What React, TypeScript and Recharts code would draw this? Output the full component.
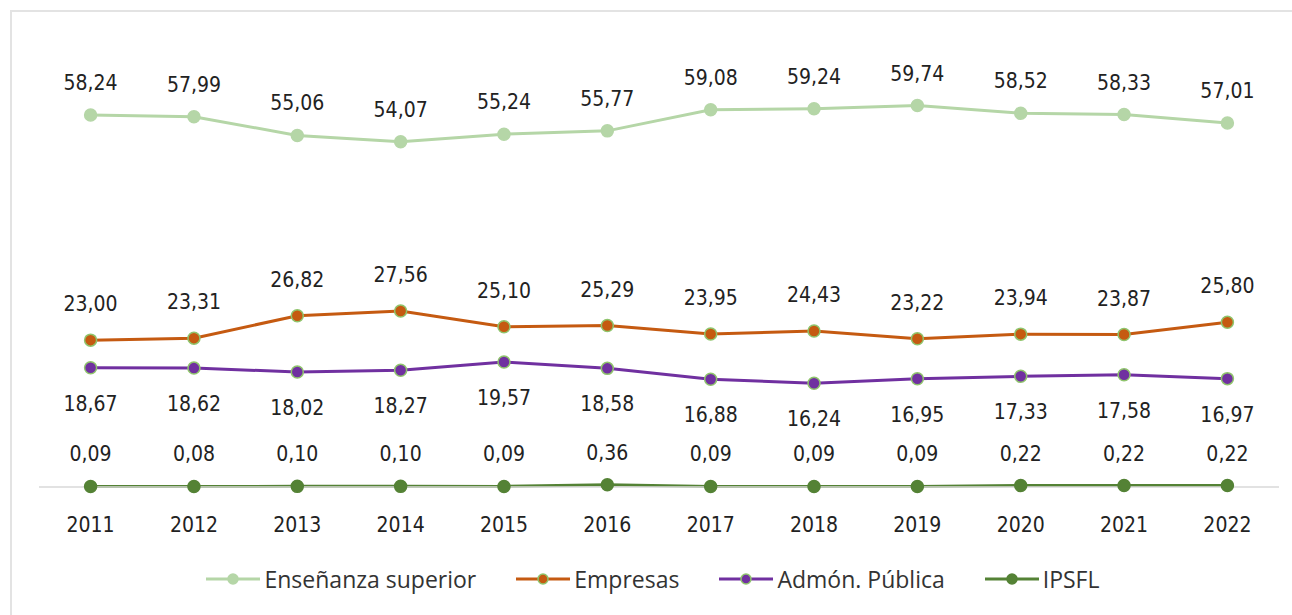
import { LineChart, Line, XAxis, YAxis, LabelList } from "recharts";

const years = ["2011", "2012", "2013", "2014", "2015", "2016", "2017", "2018", "2019", "2020", "2021", "2022"];
const ensenanza = [58.24, 57.99, 55.06, 54.07, 55.24, 55.77, 59.08, 59.24, 59.74, 58.52, 58.33, 57.01];
const empresas = [23.0, 23.31, 26.82, 27.56, 25.1, 25.29, 23.95, 24.43, 23.22, 23.94, 23.87, 25.8];
const admon = [18.67, 18.62, 18.02, 18.27, 19.57, 18.58, 16.88, 16.24, 16.95, 17.33, 17.58, 16.97];
const ipsfl = [0.09, 0.08, 0.1, 0.1, 0.09, 0.36, 0.09, 0.09, 0.09, 0.22, 0.22, 0.22];

const data = years.map((year, i) => ({
  year,
  ensenanza: ensenanza[i],
  empresas: empresas[i],
  admon: admon[i],
  ipsfl: ipsfl[i],
}));

const series = [
  { key: "ensenanza", name: "Enseñanza superior", color: "#b5d6a7", dotStroke: "#b5d6a7", pos: "top", offset: 25 },
  { key: "empresas", name: "Empresas", color: "#c55a11", dotStroke: "#8fc46c", pos: "top", offset: 29 },
  { key: "admon", name: "Admón. Pública", color: "#7030a0", dotStroke: "#8fc46c", pos: "bottom", offset: 28 },
  { key: "ipsfl", name: "IPSFL", color: "#548235", dotStroke: "#548235", pos: "top", offset: 25 },
] as const;

const fmt = (v: unknown) => Number(v).toFixed(2).replace(".", ",");
const FONT = "DejaVu Sans Condensed, DejaVu Sans, sans-serif";

function LegendRow() {
  return (
    <div
      style={{
        position: "absolute",
        top: 562,
        left: 0,
        width: 1292,
        display: "flex",
        justifyContent: "center",
        gap: 40,
        fontFamily: "Open Sans, sans-serif",
        fontSize: 23,
        lineHeight: "34px",
        color: "#333",
        paddingLeft: 14,
        boxSizing: "border-box",
      }}
    >
      {series.map((s) => (
        <div key={s.key} style={{ display: "flex", alignItems: "center" }}>
          <svg width={54} height={16} style={{ marginRight: 4 }}>
            <line x1={0} y1={8} x2={54} y2={8} stroke={s.color} strokeWidth={3} />
            <circle cx={27} cy={8} r={5} fill={s.color} stroke={s.dotStroke} strokeWidth={1.5} />
          </svg>
          <span>{s.name}</span>
        </div>
      ))}
    </div>
  );
}

export default function App() {
  return (
    <div
      style={{
        position: "absolute",
        left: 0,
        top: 0,
        width: 1292,
        height: 615,
        background: "#fff",
        overflow: "hidden",
        fontFamily: FONT,
      }}
    >
      <div
        style={{
          position: "absolute",
          left: 10,
          top: 10,
          width: 1300,
          height: 620,
          borderLeft: "2px solid #e3e3e3",
          borderTop: "2px solid #e3e3e3",
        }}
      />
      <div style={{ position: "absolute", left: 0, top: 0 }}>
        <LineChart width={1292} height={615} data={data} margin={{ top: 40, right: 13, left: 39, bottom: 78 }}>
          <XAxis
            dataKey="year"
            axisLine={{ stroke: "#d9d9d9", strokeWidth: 1.5 }}
            tickLine={false}
            tickMargin={24}
            padding={{ left: 51.6, right: 51.6 }}
            tick={{ fontSize: 21, fill: "#222", fontFamily: FONT }}
            height={50}
          />
          <YAxis hide domain={[0, 70]} width={0} />
          {series.map((s) => (
            <Line
              key={s.key}
              dataKey={s.key}
              name={s.name}
              stroke={s.color}
              strokeWidth={3}
              type="linear"
              dot={{ r: 6, fill: s.color, stroke: s.dotStroke, strokeWidth: 1.5 }}
              isAnimationActive={false}
            >
              <LabelList
                dataKey={s.key}
                position={s.pos}
                offset={s.offset}
                formatter={fmt}
                fontFamily={FONT}
                fontSize={21}
                fill="#222"
              />
            </Line>
          ))}
        </LineChart>
      </div>
      <LegendRow />
    </div>
  );
}
